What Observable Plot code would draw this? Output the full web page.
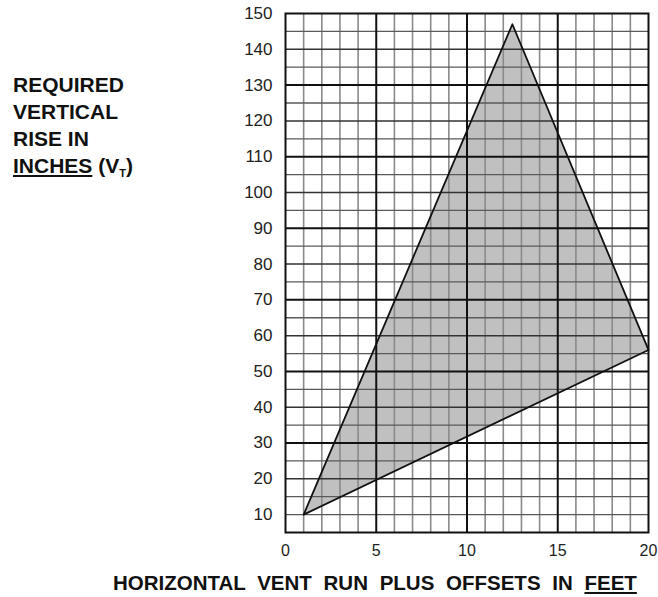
<!DOCTYPE html>
<html>
<head>
<meta charset="utf-8">
<script src="https://cdn.jsdelivr.net/npm/d3@7"></script>
<script src="https://cdn.jsdelivr.net/npm/@observablehq/plot@0.6"></script>
<style>
  html, body { margin: 0; padding: 0; background: #fff; }
  #wrap { position: relative; width: 658px; height: 597px; overflow: hidden; }
  #wrap svg { position: absolute; left: 0; top: 0; }
  .ttl { position: absolute; font-family: "Liberation Sans", Arial, sans-serif; font-weight: bold; color: #111; white-space: nowrap; }
  #ytitle { left: 13px; top: 71px; font-size: 21px; line-height: 27px; }
  #xtitle { left: 113px; top: 571px; font-size: 20.5px; line-height: 24px; word-spacing: 6px; }
  .ttl u { text-decoration-thickness: 2px; text-underline-offset: 2px; }
  sub { font-size: 11px; vertical-align: -4px; line-height: 0; }
</style>
</head>
<body>
<div id="wrap">
  <div id="ytitle" class="ttl">REQUIRED<br>VERTICAL<br>RISE IN<br><u>INCHES</u> (V<sub>T</sub>)</div>
  <div id="xtitle" class="ttl">HORIZONTAL VENT RUN PLUS OFFSETS IN <u>FEET</u></div>
</div>
<script>
// Tick labels
const xTicks = [0, 5, 10, 15, 20];
const yTicks = [10, 20, 30, 40, 50, 60, 70, 80, 90, 100, 110, 120, 130, 140, 150];

// Grid lines
const xMinorGrid = [1, 2, 3, 4, 6, 7, 8, 9, 11, 12, 13, 14, 16, 17, 18, 19];
const xMajorGrid = [5, 10, 15];
const yFiveGrid = [10, 15, 25, 35, 45, 55, 65, 75, 85, 95, 105, 115, 125, 135, 145];
const yTenGrid = [20, 40, 60, 80, 100, 120, 140];
const yMajorGrid = [30, 50, 70, 90, 110, 130];

// Shaded region (triangle) vertices
const regionX = [1, 12.5, 20];
const regionY = [10, 147, 56];
const region = regionX.map((x, i) => ({x, y: regionY[i]}));
const closed = region.concat([region[0]]);

const chart = Plot.plot({
  width: 658,
  height: 597,
  marginLeft: 285,
  marginRight: 10,
  marginTop: 13,
  marginBottom: 65,
  style: {fontFamily: "'Liberation Sans', Arial, sans-serif", color: "#222", background: "transparent"},
  x: {domain: [0, 20]},
  y: {domain: [5, 150]},
  marks: [
    Plot.line(closed, {x: "x", y: "y", fill: "#c0c0c0", stroke: "none"}),
    Plot.ruleX(xMinorGrid, {stroke: "#8a8a8a", strokeWidth: 1.6}),
    Plot.ruleY(yFiveGrid, {stroke: "#5a5a5a", strokeWidth: 1.3}),
    Plot.ruleY(yTenGrid, {stroke: "#333", strokeWidth: 1.5}),
    Plot.ruleY(yMajorGrid, {stroke: "#111", strokeWidth: 2}),
    Plot.ruleX(xMajorGrid, {stroke: "#111", strokeWidth: 2}),
    Plot.line(closed, {x: "x", y: "y", stroke: "#111", strokeWidth: 1.8}),
    Plot.frame({stroke: "#111", strokeWidth: 2}),
    Plot.axisX(xTicks, {tickSize: 0, tickPadding: 12, fontSize: 16, label: null}),
    Plot.axisY(yTicks, {tickSize: 0, tickPadding: 13, fontSize: 17, label: null})
  ]
});
document.getElementById("wrap").prepend(chart);
</script>
</body>
</html>
